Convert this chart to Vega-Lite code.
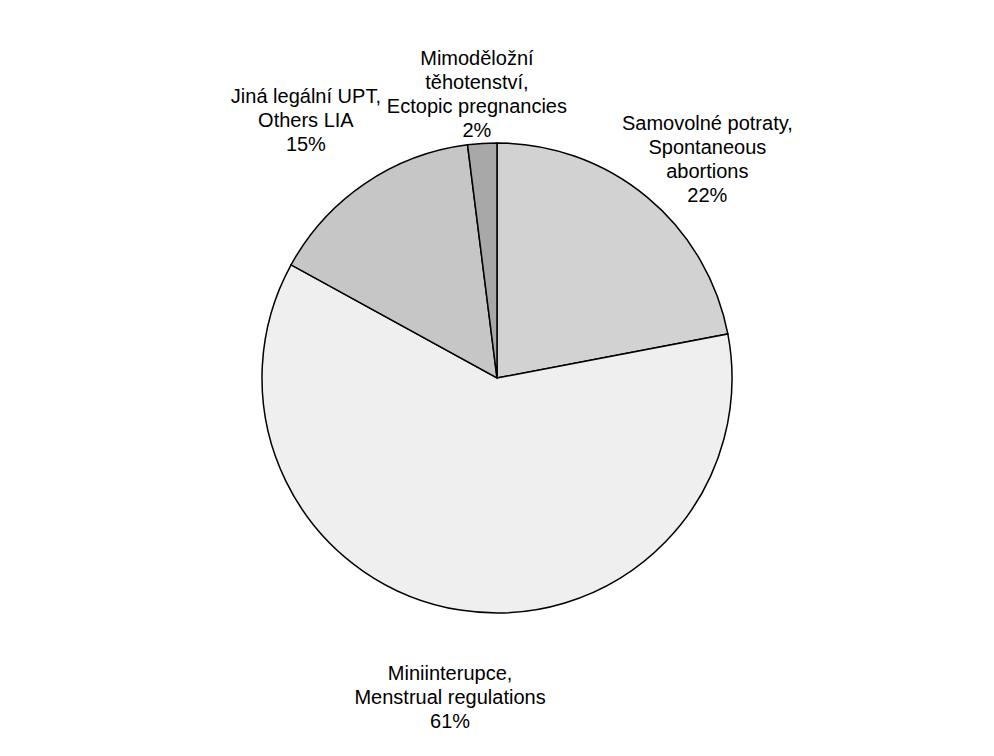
{
  "$schema": "https://vega.github.io/schema/vega-lite/v6.json",
  "autosize": {"type": "fit", "contains": "padding"},
  "width": 994,
  "height": 756,
  "background": "white",
  "config": {"view": {"stroke": null}},
  "data": {
    "values": [
      {"category": "Samovolné potraty, Spontaneous abortions", "label": "Samovolné potraty,\nSpontaneous\nabortions\n22%", "value": 22, "order": 1},
      {"category": "Miniinterupce, Menstrual regulations", "label": "Miniinterupce,\nMenstrual regulations\n61%", "value": 61, "order": 2},
      {"category": "Jiná legální UPT, Others LIA", "label": "Jiná legální UPT,\nOthers LIA\n15%", "value": 15, "order": 3},
      {"category": "Mimoděložní těhotenství, Ectopic pregnancies", "label": "Mimoděložní\ntěhotenství,\nEctopic pregnancies\n2%", "value": 2, "order": 4}
    ]
  },
  "encoding": {
    "theta": {"field": "value", "type": "quantitative", "stack": true},
    "order": {"field": "order", "type": "quantitative"}
  },
  "layer": [
    {
      "mark": {"type": "arc", "outerRadius": 235, "stroke": "black", "strokeWidth": 1.5},
      "encoding": {
        "color": {
          "field": "category",
          "type": "nominal",
          "legend": null,
          "scale": {
            "domain": [
              "Samovolné potraty, Spontaneous abortions",
              "Miniinterupce, Menstrual regulations",
              "Jiná legální UPT, Others LIA",
              "Mimoděložní těhotenství, Ectopic pregnancies"
            ],
            "range": ["#d2d2d2", "#efefef", "#c6c6c6", "#a8a8a8"]
          }
        }
      }
    },
    {
      "mark": {"type": "text", "radius": 330, "font": "Liberation Sans, Arial, sans-serif", "fontSize": 20, "lineHeight": 24, "lineBreak": "\n", "align": "center", "baseline": "middle", "color": "black"},
      "encoding": {"text": {"condition": {"test": "datum.order == 1", "field": "label"}, "value": ""}}
    },
    {
      "mark": {"type": "text", "radius": 300, "font": "Liberation Sans, Arial, sans-serif", "fontSize": 20, "lineHeight": 24, "lineBreak": "\n", "align": "center", "baseline": "middle", "color": "black"},
      "encoding": {"text": {"condition": {"test": "datum.order == 2", "field": "label"}, "value": ""}}
    },
    {
      "mark": {"type": "text", "radius": 340, "font": "Liberation Sans, Arial, sans-serif", "fontSize": 20, "lineHeight": 24, "lineBreak": "\n", "align": "center", "baseline": "middle", "color": "black"},
      "encoding": {"text": {"condition": {"test": "datum.order == 3", "field": "label"}, "value": ""}}
    },
    {
      "mark": {"type": "text", "radius": 320, "font": "Liberation Sans, Arial, sans-serif", "fontSize": 20, "lineHeight": 24, "lineBreak": "\n", "align": "center", "baseline": "middle", "color": "black"},
      "encoding": {"text": {"condition": {"test": "datum.order == 4", "field": "label"}, "value": ""}}
    }
  ]
}
